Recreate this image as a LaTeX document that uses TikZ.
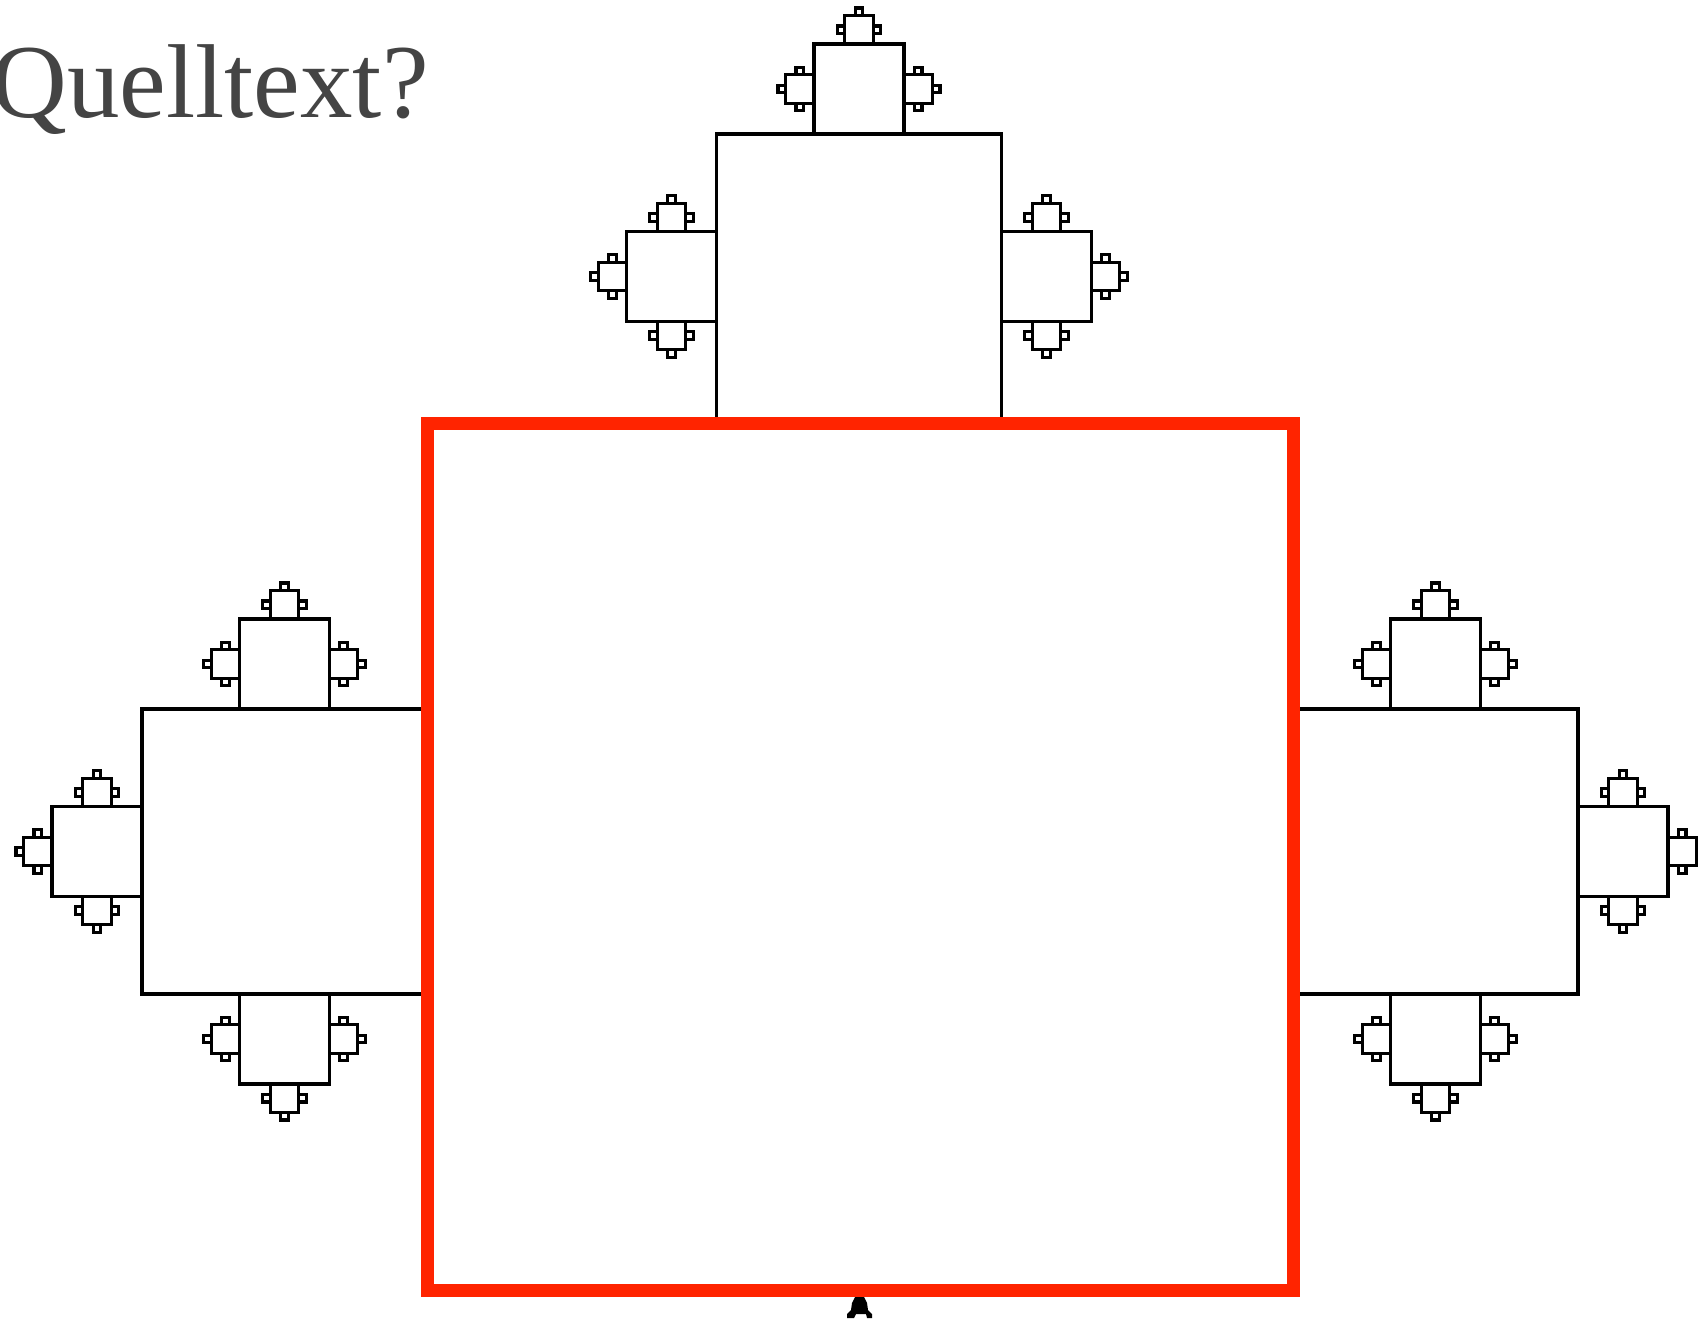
\documentclass[tikz,border=0pt]{standalone}
\usepackage{fontspec}
\setmainfont{Liberation Serif}
\definecolor{redline}{RGB}{255,36,0}
\definecolor{txtgray}{RGB}{68,68,68}
\tikzset{
  blk/.style={draw=black,line width=1.55pt},
  redsq/.style={draw=redline,line width=6.5pt},
  titletext/.style={inner sep=0pt,text=txtgray,font=\fontsize{52.5}{60}\selectfont}
}
% level, size, attach-x, attach-y, dir-x, dir-y
\newcommand\fracsq[6]{%
 \begingroup
 \pgfmathsetmacro\fqS{#2}%
 \pgfmathsetmacro\fqX{#3+(#5)*\fqS/2}%
 \pgfmathsetmacro\fqY{#4+(#6)*\fqS/2}%
 \draw[blk] (\fqX-\fqS/2,\fqY-\fqS/2) rectangle (\fqX+\fqS/2,\fqY+\fqS/2);%
 \ifnum#1<4\relax
   \pgfmathtruncatemacro\fqL{#1+1}%
   \edef\fqN{\ifcase\fqL\or285\or90\or28.3\or7.7\fi}%
   \pgfmathsetmacro\fqAx{\fqX+(#5)*\fqS/2}%
   \pgfmathsetmacro\fqAy{\fqY+(#6)*\fqS/2}%
   \pgfmathsetmacro\fqBx{\fqX-(#6)*\fqS/2}%
   \pgfmathsetmacro\fqBy{\fqY+(#5)*\fqS/2}%
   \pgfmathsetmacro\fqCx{\fqX+(#6)*\fqS/2}%
   \pgfmathsetmacro\fqCy{\fqY-(#5)*\fqS/2}%
   \pgfmathsetmacro\fqPx{0-(#6)}%
   \pgfmathsetmacro\fqPy{#5}%
   \pgfmathsetmacro\fqQx{#6}%
   \pgfmathsetmacro\fqQy{0-(#5)}%
   \edef\fqNext{%
     \noexpand\fracsq{\fqL}{\fqN}{\fqAx}{\fqAy}{#5}{#6}%
     \noexpand\fracsq{\fqL}{\fqN}{\fqBx}{\fqBy}{\fqPx}{\fqPy}%
     \noexpand\fracsq{\fqL}{\fqN}{\fqCx}{\fqCy}{\fqQx}{\fqQy}}%
   \fqNext
 \fi
 \endgroup}
\begin{document}
\begin{tikzpicture}[x=0.5pt,y=-0.5pt]
\useasboundingbox[fill=white] (0,0) rectangle (1698,1318);
% title
\node[titletext,anchor=base east] (title) at (429,117) {Quelltext?};
% fractal squares
\fracsq{1}{285}{859}{419}{0}{-1}
\fracsq{1}{285}{427}{851.5}{-1}{0}
\fracsq{1}{285}{1293}{851.5}{1}{0}
% main red square
\draw[redsq] (427,423.5) rectangle (1293,1290);
% turtle
\fill[black] (855,1297) -- (864,1297) -- (867,1303) -- (868,1310) -- (872,1314)
  -- (872,1318) -- (867,1318) -- (866,1314) -- (856,1314) -- (854,1318)
  -- (847,1318) -- (847,1314) -- (851,1310) -- (852,1303) -- cycle;
\end{tikzpicture}
\end{document}
